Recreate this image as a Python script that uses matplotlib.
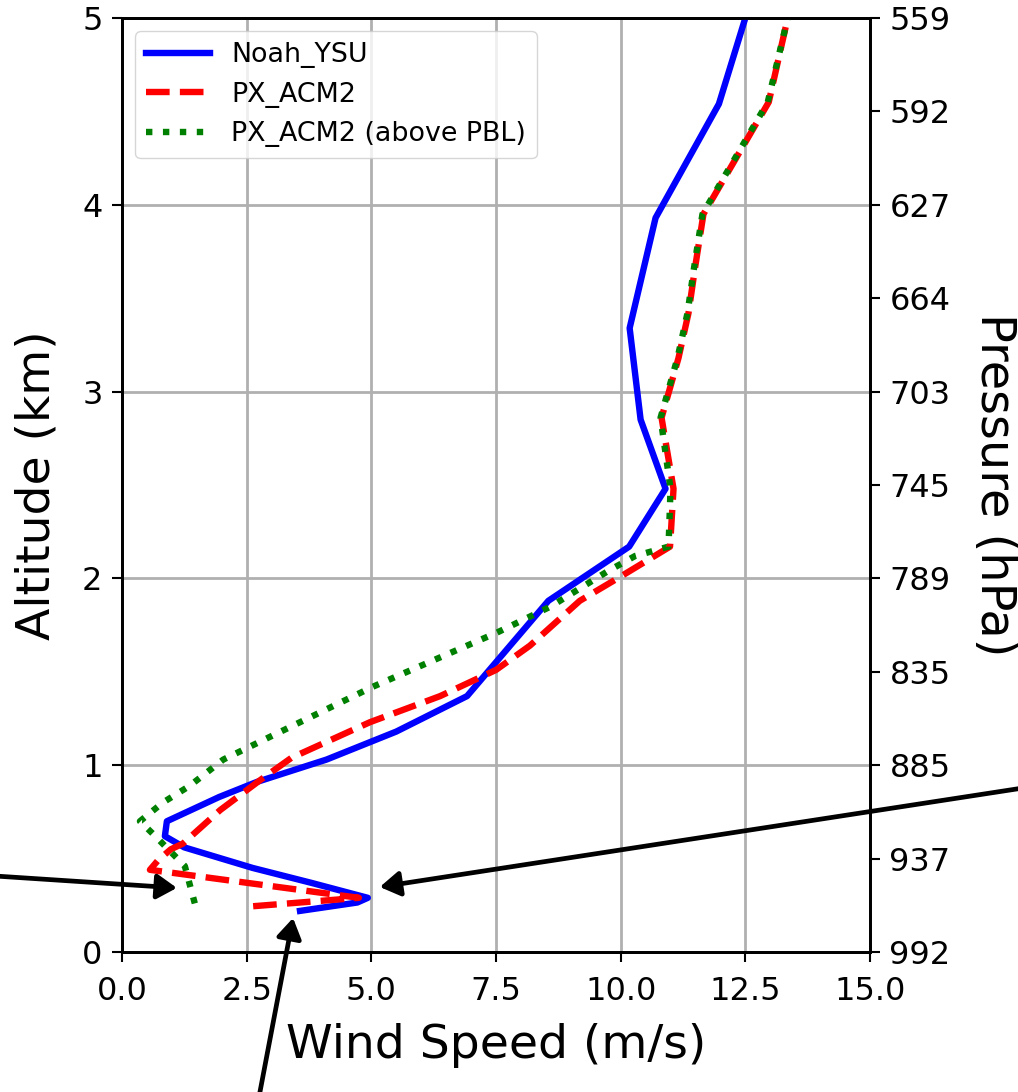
import matplotlib
matplotlib.use("Agg")
import matplotlib.pyplot as plt
import numpy as np

# --- data ---
alt_ysu = [0.22, 0.265, 0.29, 0.37, 0.45, 0.56, 0.62, 0.70, 0.83, 0.91, 1.03, 1.18, 1.37,
           1.88, 2.17, 2.48, 2.85, 3.34, 3.93, 4.54, 5.0]
ws_ysu = [3.57, 4.72, 4.93, 3.80, 2.62, 1.25, 0.86, 0.90, 1.95, 2.70, 4.10, 5.50, 6.92,
          8.55, 10.17, 10.90, 10.40, 10.18, 10.70, 11.97, 12.50]

alt_px = [0.245, 0.29, 0.44, 0.49, 0.55, 0.58, 0.76, 0.92, 1.04, 1.23, 1.37, 1.51, 1.64,
          1.88, 2.01, 2.17, 2.48, 2.86, 3.18, 3.42, 3.66, 3.95, 4.55, 5.0]
ws_px = [2.63, 4.75, 0.56, 0.72, 0.98, 1.22, 1.97, 2.77, 3.40, 4.97, 6.38, 7.50, 8.18,
         9.18, 10.00, 10.99, 11.06, 10.82, 11.16, 11.36, 11.49, 11.66, 12.97, 13.35]

alt_pbl = [0.26, 0.46, 0.63, 0.70, 0.80, 0.89, 1.03, 1.42, 1.71, 1.85, 2.04, 2.12, 2.17,
           2.48, 2.86, 3.18, 3.42, 3.66, 3.95, 4.55, 5.0]
ws_pbl = [1.46, 1.26, 0.63, 0.36, 0.82, 1.36, 2.03, 5.03, 7.52, 8.60, 9.75, 10.29, 10.96,
          11.00, 10.80, 11.14, 11.34, 11.47, 11.64, 12.95, 13.35]

series_labels = ["Noah_YSU", "PX_ACM2", "PX_ACM2 (above PBL)"]

alt_ticks = [0, 1, 2, 3, 4, 5]
ws_ticks = [0.0, 2.5, 5.0, 7.5, 10.0, 12.5, 15.0]
p_tick_alt = [0, 0.5, 1, 1.5, 2, 2.5, 3, 3.5, 4, 4.5, 5]
p_tick_labels = ["992", "937", "885", "835", "789", "745", "703", "664", "627", "592", "559"]

# annotation arrow targets (data coords)
arrow_targets = [(1.10, 0.343), (5.17, 0.348), (3.43, 0.182)]

# --- figure ---
W, H = 1018, 1092
fig = plt.figure(figsize=(W / 100, H / 100), dpi=100)
ax = fig.add_axes([122 / W, 140 / H, 748 / W, 934 / H])

lw = 4.6
ax.plot(ws_ysu, alt_ysu, color="blue", lw=lw, ls="-", label=series_labels[0], zorder=3)
ax.plot(ws_px, alt_px, color="red", lw=lw, ls="--", label=series_labels[1], zorder=3)
ax.plot(ws_pbl, alt_pbl, color="green", lw=lw, ls=":", label=series_labels[2], zorder=3)

ax.set_xlim(0, 15)
ax.set_ylim(0, 5)
ax.set_xticks(ws_ticks)
ax.set_yticks(alt_ticks)
ax.set_xticklabels([f"{v:.1f}" for v in ws_ticks])
ax.grid(True, color="#b0b0b0", lw=2)
ax.tick_params(axis="both", labelsize=23, length=7, width=1.5)
ax.tick_params(axis="x", pad=10)
ax.tick_params(axis="y", pad=7)
for s in ax.spines.values():
    s.set_linewidth(2)

ax.set_xlabel("Wind Speed (m/s)", fontsize=34)
ax.set_ylabel("Altitude (km)", fontsize=34)
ax.xaxis.set_label_coords(0.5, -0.076)
ax.yaxis.set_label_coords(-0.083, 0.5)

leg = ax.legend(loc="upper left", fontsize=19.4, handlelength=2.35)

ax2 = ax.twinx()
ax2.set_ylim(0, 5)
ax2.set_yticks(p_tick_alt)
ax2.set_yticklabels(p_tick_labels)
ax2.tick_params(axis="y", labelsize=23, length=7, width=1.5, pad=7)
for s in ax2.spines.values():
    s.set_linewidth(2)
ax2.set_ylabel("Pressure (hPa)", fontsize=34.5, rotation=270, va="bottom")
ax2.yaxis.set_label_coords(1.135, 0.5)

# arrows coming from outside (tails in figure pixels)
tails = [(-5, 216), (W + 5, H - 788), (259, -5)]
for (tx, ty), (hx, hy) in zip(tails, arrow_targets):
    ax.annotate("", xy=(hx, hy), xycoords="data", xytext=(tx, ty),
                textcoords="figure pixels", annotation_clip=False,
                arrowprops=dict(arrowstyle="-|>,head_length=0.4,head_width=0.25",
                                color="black", lw=3.4,
                                mutation_scale=30, shrinkA=0, shrinkB=0))

fig.savefig("out.png", dpi=100)
